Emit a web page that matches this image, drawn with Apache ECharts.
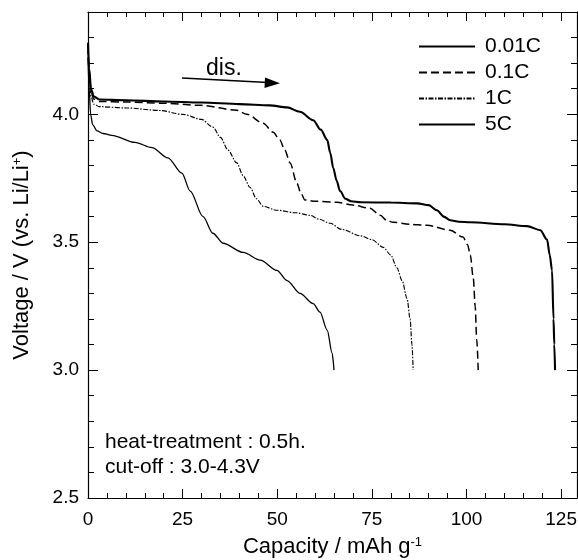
<!DOCTYPE html>
<html>
<head>
<meta charset="utf-8">
<script src="https://cdn.jsdelivr.net/npm/echarts@6/dist/echarts.min.js"></script>
<style>
  html, body { margin: 0; padding: 0; background: #fff; }
  #chart { width: 578px; height: 560px; }
</style>
</head>
<body>
<div id="chart"></div>
<script>
// Discharge curves at different C-rates (capacity in mAh/g, voltage in V)
const seriesNames = ['0.01C', '0.1C', '1C', '5C'];

const cap001 = [0, 0.3, 0.8, 1.5, 3, 10, 20, 30, 40, 48, 52.6, 56, 59.5, 61.5, 63.2, 64, 64.8, 65.7, 66.6, 68, 69.5, 72, 80, 87, 90, 92.2, 94, 95.7, 98, 101, 110, 116, 119.5, 121.3, 122, 122.6, 123, 123.2, 123.4];
const volt001 = [4.28, 4.18, 4.1, 4.07, 4.058, 4.055, 4.05, 4.046, 4.04, 4.035, 4.027, 4.01, 3.977, 3.94, 3.9, 3.85, 3.79, 3.74, 3.70, 3.67, 3.66, 3.656, 3.655, 3.652, 3.645, 3.625, 3.60, 3.586, 3.58, 3.578, 3.57, 3.563, 3.547, 3.51, 3.45, 3.39, 3.2, 3.1, 3.0];

const cap01 = [0, 0.3, 0.8, 1.5, 3, 10, 20, 30, 39.3, 42, 46.3, 48.9, 50.7, 52, 53.4, 55.2, 56.3, 57.3, 60, 65.8, 70, 74.5, 77.2, 79, 80.6, 85, 89.6, 95.7, 99.1, 100.3, 101, 101.8, 102.3, 102.7, 103.1];
const volt01 = [4.27, 4.17, 4.09, 4.06, 4.05, 4.048, 4.043, 4.035, 4.016, 4.0, 3.965, 3.93, 3.90, 3.86, 3.81, 3.73, 3.69, 3.665, 3.66, 3.656, 3.645, 3.633, 3.605, 3.585, 3.578, 3.57, 3.566, 3.547, 3.52, 3.49, 3.45, 3.36, 3.25, 3.12, 3.0];

const cap1 = [0, 0.3, 0.8, 1.5, 3, 10, 19, 25, 30, 33, 35, 37, 39.3, 41, 42.8, 44.5, 46.3, 49.9, 55, 58.7, 61, 64, 67, 72, 75, 78, 80, 81.6, 83, 84.3, 85.1, 85.6, 85.9];
const volt1 = [4.25, 4.14, 4.07, 4.04, 4.03, 4.025, 4.015, 4.0, 3.98, 3.95, 3.91, 3.86, 3.81, 3.76, 3.715, 3.67, 3.64, 3.625, 3.615, 3.605, 3.59, 3.574, 3.55, 3.525, 3.51, 3.48, 3.45, 3.40, 3.35, 3.28, 3.2, 3.1, 3.0];

const cap5 = [0, 0.3, 0.7, 1.2, 2.4, 4, 6.3, 12.4, 16.9, 21.1, 24.8, 27, 30.4, 33, 35.7, 41, 45.5, 49.9, 52.6, 56, 59.5, 61.3, 63.2, 64.5, 65];
const volt5 = [4.22, 4.1, 4.0, 3.96, 3.935, 3.925, 3.918, 3.89, 3.87, 3.83, 3.77, 3.70, 3.6, 3.535, 3.496, 3.46, 3.43, 3.39, 3.35, 3.3, 3.26, 3.227, 3.156, 3.066, 3.0];

// Axis ranges and tick steps
const xMin = 0, xMax = 129.2, xMajor = 25, xMinor = 5;
const yMin = 2.5, yMax = 4.4, yMajor = 0.5, yMinor = 0.1;

const FONT = '"Liberation Sans", Arial, Helvetica, sans-serif';
const zip = (xs, ys) => xs.map((x, i) => [x, ys[i]]);

const chart = echarts.init(document.getElementById('chart'), null, { renderer: 'canvas' });

const axisLineStyle = { color: '#000', width: 1.2 };
const tickStyle = { color: '#000', width: 1 };

function xAxisDef(pos, major, withLabels) {
  return {
    type: 'value', position: pos, min: xMin, max: xMax,
    interval: major ? xMajor : xMinor,
    axisLine: { show: major, onZero: false, lineStyle: axisLineStyle },
    axisTick: { show: true, inside: true, length: major ? 9 : 5, lineStyle: tickStyle },
    axisLabel: withLabels ? {
      show: true, margin: 12, fontSize: 19, color: '#000', fontFamily: FONT,
      showMaxLabel: false
    } : { show: false },
    splitLine: { show: false }
  };
}
function yAxisDef(pos, major, withLabels) {
  return {
    type: 'value', position: pos, min: yMin, max: yMax,
    interval: major ? yMajor : yMinor,
    axisLine: { show: major, onZero: false, lineStyle: axisLineStyle },
    axisTick: { show: true, inside: true, length: major ? 10 : 6, lineStyle: tickStyle },
    axisLabel: withLabels ? {
      show: true, margin: 9, fontSize: 19, color: '#000', fontFamily: FONT,
      showMaxLabel: false, formatter: v => v.toFixed(1)
    } : { show: false },
    splitLine: { show: false }
  };
}

const xBottom = Object.assign(xAxisDef('bottom', true, true), {
  name: 'Capacity / mAh g{sup|-1}', nameLocation: 'middle', nameGap: 38,
  nameTextStyle: {
    fontSize: 22, color: '#000', fontFamily: FONT,
    rich: { sup: { fontSize: 13, color: '#000', fontFamily: FONT, verticalAlign: 'top', lineHeight: 14 } }
  }
});
const yLeft = Object.assign(yAxisDef('left', true, true), {
  name: 'Voltage / V (vs. Li/Li{sup|+})', nameLocation: 'middle', nameGap: 55,
  nameTextStyle: {
    fontSize: 22, color: '#000', fontFamily: FONT,
    rich: { sup: { fontSize: 13, color: '#000', fontFamily: FONT, verticalAlign: 'top', lineHeight: 14 } }
  }
});

const lineSeries = (name, data, style) => ({
  name, type: 'line', xAxisIndex: 0, yAxisIndex: 0,
  data, symbol: 'none', showSymbol: false,
  smooth: 0.3, smoothMonotone: 'x',
  lineStyle: Object.assign({ color: '#000' }, style),
  itemStyle: { color: '#000' },
  z: 3
});

chart.setOption({
  animation: false,
  backgroundColor: '#fff',
  grid: { left: 88, right: 1, top: 12, bottom: 62, containLabel: false, outerBoundsMode: 'none' },
  xAxis: [
    xBottom,
    xAxisDef('bottom', false, false),
    xAxisDef('top', true, false),
    xAxisDef('top', false, false)
  ],
  yAxis: [
    yLeft,
    yAxisDef('left', false, false),
    yAxisDef('right', true, false),
    yAxisDef('right', false, false)
  ],
  legend: {
    data: seriesNames,
    orient: 'vertical',
    left: 418, top: 36,
    itemWidth: 56, itemHeight: 14, itemGap: 5,
    padding: 0,
    // legend keys show only the line style, no marker
    itemStyle: { opacity: 0, borderWidth: 0 },
    textStyle: { fontSize: 21, color: '#000', fontFamily: FONT, lineHeight: 21, padding: [0, 0, 0, 5] }
  },
  series: [
    lineSeries(seriesNames[0], zip(cap001, volt001), { width: 2.1 }),
    lineSeries(seriesNames[1], zip(cap01, volt01), { width: 1.5, type: [8, 4] }),
    lineSeries(seriesNames[2], zip(cap1, volt1), { width: 1.15, type: [5, 1.5, 1.5, 1.5] }),
    lineSeries(seriesNames[3], zip(cap5, volt5), { width: 1.3 })
  ],
  graphic: [
    // discharge direction annotation
    { type: 'text', left: 206, top: 57, style: { text: 'dis.', fontSize: 23, fill: '#000', fontFamily: FONT } },
    { type: 'line', shape: { x1: 182, y1: 78, x2: 268, y2: 82.5 }, style: { stroke: '#000', lineWidth: 1.6 } },
    { type: 'polygon', shape: { points: [[280, 83.2], [265, 77.5], [264.5, 88]] }, style: { fill: '#000' } },
    // measurement conditions
    { type: 'text', left: 105, top: 432, style: { text: 'heat-treatment : 0.5h.', fontSize: 21, fill: '#000', fontFamily: FONT } },
    { type: 'text', left: 105, top: 457, style: { text: 'cut-off : 3.0-4.3V', fontSize: 21, fill: '#000', fontFamily: FONT } }
  ]
});
</script>
</body>
</html>
